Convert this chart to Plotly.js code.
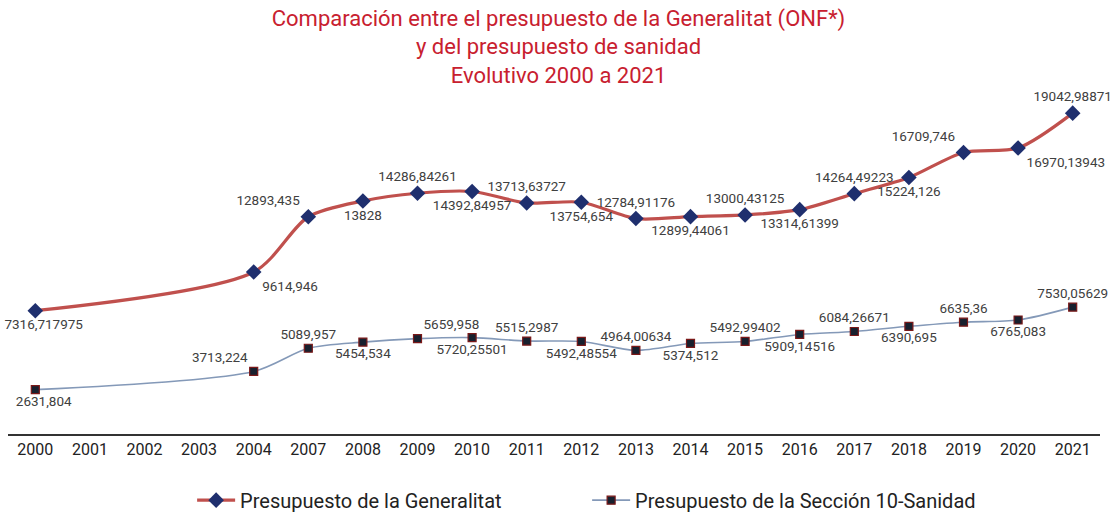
<!DOCTYPE html>
<html>
<head>
<meta charset="utf-8">
<script src="https://cdn.plot.ly/plotly-3.0.1.min.js"></script>
<style>
  html, body { margin: 0; padding: 0; background: #fff; }
  #plot { width: 1117px; height: 513px; }
</style>
</head>
<body>
<div id="plot"></div>
<script>
// years on the category axis (2005 and 2006 are not in the source)
var years = ["2000", "2001", "2002", "2003", "2004", "2007", "2008", "2009", "2010", "2011",
             "2012", "2013", "2014", "2015", "2016", "2017", "2018", "2019", "2020", "2021"];

// Presupuesto de la Generalitat (ONF), no data for 2001-2003
var generalitat = [7316.717975, null, null, null, 9614.946, 12893.435, 13828, 14286.84261,
                   14392.84957, 13713.63727, 13754.654, 12784.91176, 12899.44061, 13000.43125,
                   13314.61399, 14264.49223, 15224.126, 16709.746, 16970.13943, 19042.98871];
var generalitatLabels = ["\u00a0\u00a0\u00a0\u00a0\u00a07316,717975", "", "", "", "9614,946", "12893,435", "13828", "14286,84261",
                         "14392,84957", "13713,63727", "13754,654", "12784,91176", "12899,44061",
                         "13000,43125", "13314,61399", "14264,49223", "15224,126", "16709,746",
                         "16970,13943", "19042,98871"];

// Presupuesto de la Sección 10 - Sanidad
var sanidad = [2631.804, null, null, null, 3713.224, 5089.957, 5454.534, 5659.958, 5720.25501,
               5515.2987, 5492.48554, 4964.00634, 5374.512, 5492.99402, 5909.14516, 6084.26671,
               6390.695, 6635.36, 6765.083, 7530.05629];
var sanidadLabels = ["\u00a0\u00a0\u00a0\u00a0\u00a02631,804", "", "", "", "3713,224", "5089,957", "5454,534", "5659,958",
                     "5720,25501", "5515,2987", "5492,48554", "4964,00634", "5374,512", "5492,99402",
                     "5909,14516", "6084,26671", "6390,695", "6635,36", "6765,083", "7530,05629"];

var genPos = ["bottom center", "top center", "top center", "top center", "bottom right", "top left",
              "bottom center", "top center", "bottom center", "top center", "bottom center",
              "top center", "bottom center", "top center", "bottom center", "top center",
              "bottom center", "top left", "bottom right", "top center"];
var sanPos = ["bottom center", "top center", "top center", "top center", "top left", "top center",
              "bottom center", "top right", "bottom center", "top center", "bottom center",
              "top center", "bottom center", "top center", "bottom center", "top center",
              "bottom center", "top center", "bottom center", "top center"];

var trace1 = {
  x: years,
  y: generalitat,
  text: generalitatLabels,
  name: "Presupuesto de la Generalitat",
  type: "scatter",
  mode: "lines+markers+text",
  connectgaps: true,
  textposition: genPos,
  textfont: {family: "Roboto, sans-serif", size: 13.5, color: "#404040"},
  line: {color: "#c0504d", width: 3.2, shape: "spline", smoothing: 0.8},
  marker: {symbol: "diamond", size: 12, color: "#1f2f6e"},
  cliponaxis: false,
  hoverinfo: "x+y"
};

var trace2 = {
  x: years,
  y: sanidad,
  text: sanidadLabels,
  name: "Presupuesto de la Sección 10-Sanidad",
  type: "scatter",
  mode: "lines+markers+text",
  connectgaps: true,
  textposition: sanPos,
  textfont: {family: "Roboto, sans-serif", size: 13.5, color: "#404040"},
  line: {color: "#8499b8", width: 1.6, shape: "spline", smoothing: 0.8},
  marker: {symbol: "square", size: 8, color: "#17202e", line: {color: "#7a1818", width: 1.2}},
  cliponaxis: false,
  hoverinfo: "x+y"
};

var layout = {
  width: 1117,
  height: 513,
  margin: {l: 8, r: 17, t: 97, b: 79},
  paper_bgcolor: "#fff",
  plot_bgcolor: "#fff",
  font: {family: "Roboto, sans-serif", color: "#222"},
  title: {
    text: "Comparación entre el presupuesto de la Generalitat (ONF*)<br>y del presupuesto de sanidad<br>Evolutivo 2000 a 2021",
    font: {family: "Roboto, sans-serif", size: 22, color: "#c8202f"},
    x: 0.5, xanchor: "center",
    yref: "container",
    y: 0.95, yanchor: "middle"
  },
  xaxis: {
    type: "category",
    range: [-0.5, 19.5],
    showgrid: false,
    zeroline: false,
    showline: true,
    linecolor: "#333",
    linewidth: 1.5,
    ticks: "",
    tickfont: {size: 16, color: "#222"}
  },
  yaxis: {
    range: [0, 20000],
    visible: false
  },
  showlegend: true,
  legend: {
    orientation: "h",
    xref: "container", yref: "container",
    x: 0.172, xanchor: "left",
    y: 0.025, yanchor: "middle",
    font: {size: 20, color: "#222"},
    itemwidth: 38,
    entrywidth: 342,
    entrywidthmode: "pixels",
    traceorder: "normal"
  }
};

Plotly.newPlot("plot", [trace1, trace2], layout, {displayModeBar: false});
</script>
</body>
</html>
